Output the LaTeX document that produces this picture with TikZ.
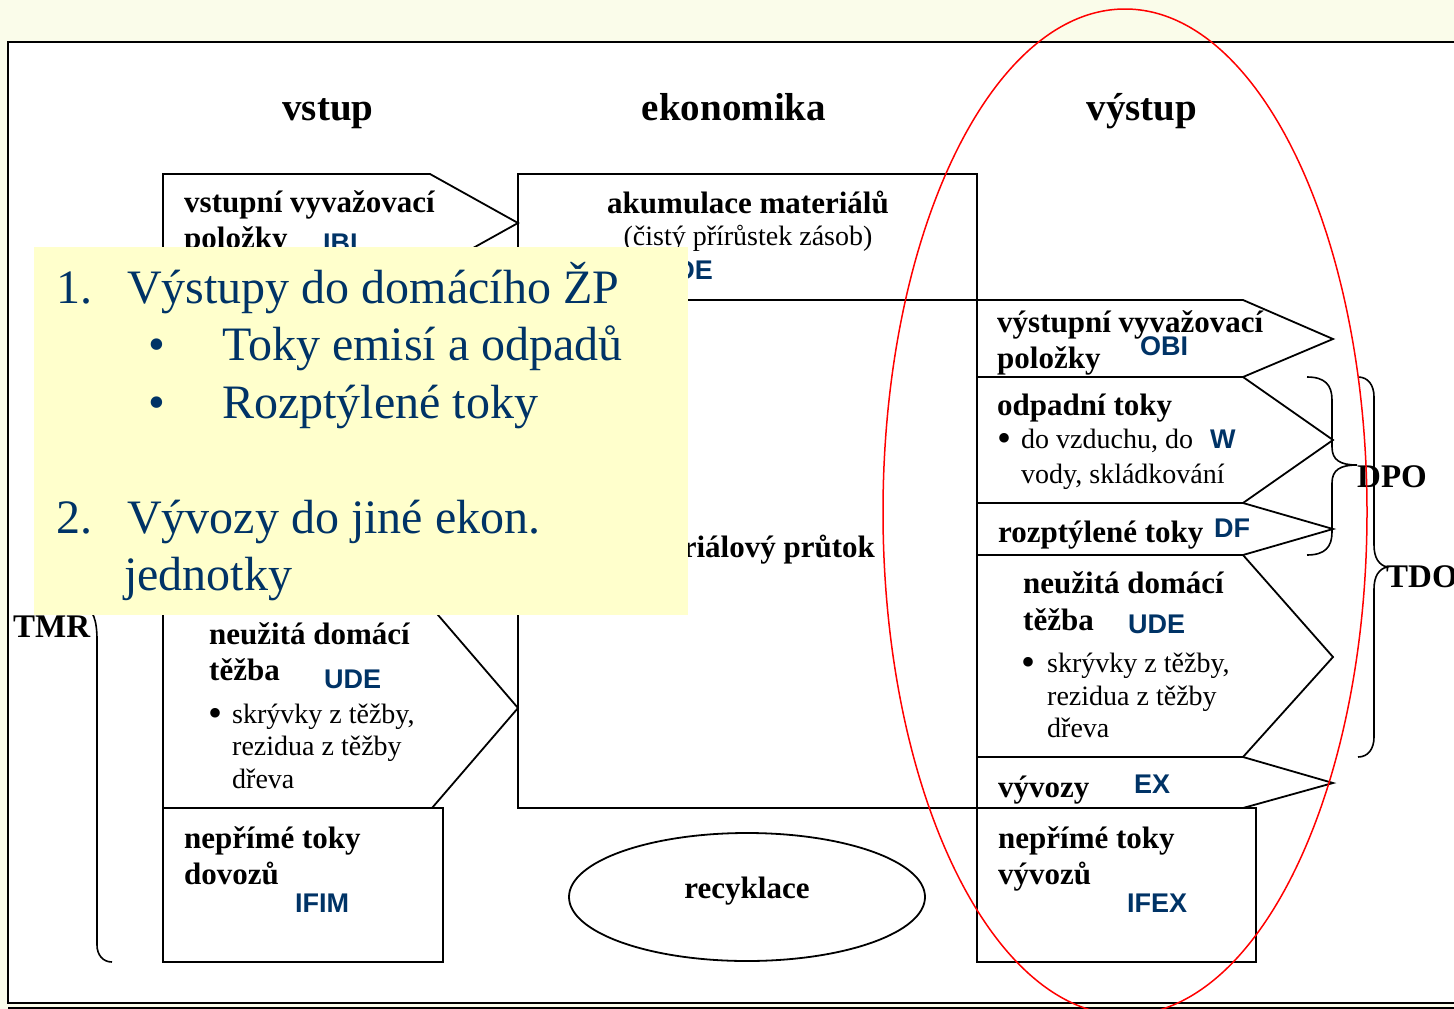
\documentclass[tikz,border=0pt]{standalone}
\usepackage{fontspec}
\setmainfont{Liberation Serif}
\setsansfont{Liberation Sans}
\definecolor{cream}{RGB}{250,252,234}
\definecolor{codeblue}{RGB}{0,51,102}
\definecolor{noteyellow}{RGB}{255,255,204}
\begin{document}
\begin{tikzpicture}[x=1pt,y=-1pt,
  box/.style={draw=black, line width=1.8pt, line join=miter},
  bt/.style={font=\fontsize{31}{36}\selectfont\bfseries, inner sep=0pt, anchor=base west},
  rt/.style={font=\fontsize{28}{34}\selectfont, inner sep=0pt, anchor=base west},
  dot/.style={font=\fontsize{40}{40}\selectfont, inner sep=0pt, anchor=base},
  code/.style={font=\sffamily\bfseries\fontsize{27}{32}\selectfont, text=codeblue, inner sep=0pt, anchor=base west},
  head/.style={font=\fontsize{39}{46}\selectfont\bfseries, inner sep=0pt, anchor=base},
  big/.style={font=\fontsize{33}{40}\selectfont\bfseries, inner sep=0pt, anchor=base west},
  note/.style={font=\fontsize{48}{56}\selectfont, text=codeblue, inner sep=0pt, anchor=base west},
  brace/.style={draw=black, line width=1.6pt},
]
\clip (0,0) rectangle (1454,1009);
\fill[cream] (0,0) rectangle (1454,1009);

% slide frame
\draw[line width=2pt, fill=white] (8,42) rectangle (1470,1003);
\draw[line width=3pt] (8,1008) -- (1460,1008);

% input column
\draw[box] (163,174) -- (430,174) -- (518,223) -- (430,272) -- (163,272) -- cycle;
\draw[box] (163,272) -- (163,608);
\draw[box] (163,608) -- (432,608) -- (518,708) -- (432,808) -- (163,808) -- cycle;
\draw[box] (163,808) rectangle (443,962);

% economy
\draw[box] (518,174) rectangle (977,808);
\draw[box] (518,300) -- (977,300);

% output column
\foreach \t/\m/\b in {300/339/377, 377/440/503, 503/529/555, 555/657/757, 757/783/808}{
  \draw[box] (977,\t) -- (1243,\t) -- (1333,\m) -- (1243,\b) -- (977,\b);
}
\draw[box] (977,808) rectangle (1256,962);

% recycling
\draw[line width=1.8pt] (747,897) ellipse [x radius=178pt, y radius=64pt];
\node[bt, anchor=base] (rec) at (747,898) {recyklace};

% headings
\node[head] (hin) at (328,120) {vstup};
\node[head] (hecon) at (734,120) {ekonomika};
\node[head] (hout) at (1142,120) {výstup};

% input texts
\node[bt] (ibi1) at (184,212) {vstupní vyvažovací};
\node[bt] (ibi2) at (184,248) {položky};
\node[code] (ibi) at (323,252) {IBI};

\node[bt] (udeA) at (209,644) {neužitá domácí};
\node[bt] (udeB) at (209,680) {těžba};
\node[code] (ude) at (324,688) {UDE};
\node[dot] (udeDot) at (215,726) {•};
\node[rt] (udeC) at (232,723) {skrývky z těžby,};
\node[rt] (udeD) at (232,755) {rezidua z těžby};
\node[rt] (udeE) at (232,788) {dřeva};

\node[bt] (ifimA) at (184,848) {nepřímé toky};
\node[bt] (ifimB) at (184,884) {dovozů};
\node[code] (ifim) at (295,912) {IFIM};

% economy texts
\node[bt, anchor=base] (accA) at (748,213) {akumulace materiálů};
\node[rt, anchor=base] (accB) at (748,245) {(čistý přírůstek zásob)};
\node[code, anchor=base east] (acc) at (713,279) {DE};
\node[bt, anchor=base east] (dmt) at (875,557) {materiálový průtok};

% output texts
\node[bt] (obiA) at (997,332) {výstupní vyvažovací};
\node[bt] (obiB) at (997,368) {položky};
\node[code] (obi) at (1140,355) {OBI};

\node[bt] (wA) at (997,415) {odpadní toky};
\node[dot] (wDot) at (1004,451) {•};
\node[rt] (wB) at (1021,448) {do vzduchu, do};
\node[code] (w) at (1210,448) {W};
\node[rt] (wC) at (1021,483) {vody, skládkování};

\node[bt] (dfA) at (998,542) {rozptýlené toky};
\node[code] (df) at (1214,537) {DF};

\node[bt] (udeRA) at (1023,593) {neužitá domácí};
\node[bt] (udeRB) at (1023,630) {těžba};
\node[code] (udeR) at (1128,633) {UDE};
\node[dot] (udeRDot) at (1028,675) {•};
\node[rt] (udeRC) at (1047,672) {skrývky z těžby,};
\node[rt] (udeRD) at (1047,705) {rezidua z těžby};
\node[rt] (udeRE) at (1047,737) {dřeva};

\node[bt] (exA) at (998,797) {vývozy};
\node[code] (ex) at (1134,793) {EX};

\node[bt] (ifexA) at (998,848) {nepřímé toky};
\node[bt] (ifexB) at (998,884) {vývozů};
\node[code] (ifex) at (1127,912) {IFEX};

% aggregate labels and braces
\node[big] (tmr) at (13,637) {TMR};
\node[big] (dpo) at (1357,487) {DPO};
\node[big] (tdo) at (1386,587) {TDO};

\draw[brace] (112,260) .. controls (103,260) and (97,266) .. (97,278) -- (97,575)
  .. controls (97,595) and (93,605) .. (84,607)
  .. controls (93,609) and (97,620) .. (97,640) -- (97,945)
  .. controls (97,955) and (103,962) .. (112,962);

\draw[brace] (1307,377) .. controls (1325,377) and (1332,385) .. (1332,400) -- (1332,447)
  .. controls (1332,460) and (1340,465) .. (1357,465)
  .. controls (1340,465) and (1332,470) .. (1332,483) -- (1332,532)
  .. controls (1332,547) and (1325,555) .. (1307,555);

\draw[brace] (1358,377) .. controls (1368,377) and (1374,385) .. (1374,397) -- (1374,545)
  .. controls (1374,558) and (1379,565) .. (1387,567)
  .. controls (1379,569) and (1374,576) .. (1374,589) -- (1374,737)
  .. controls (1374,749) and (1368,757) .. (1358,757);

% highlighted note
\fill[noteyellow] (34,247) rectangle (688,615);
\node[note] (n1) at (56,303) {1.};
\node[note] (n1t) at (127,303) {Výstupy do domácího ŽP};
\node[note, anchor=base] (n1d1) at (157,360) {•};
\node[note] (n1a) at (222,360) {Toky emisí a odpadů};
\node[note, anchor=base] (n1d2) at (157,418) {•};
\node[note] (n1b) at (222,418) {Rozptýlené toky};
\node[note] (n2) at (56,533) {2.};
\node[note] (n2t) at (127,533) {Vývozy do jiné ekon.};
\node[note] (n2u) at (124,590) {jednotky};

% output ring
\draw[red, line width=1.5pt] (1125,512) ellipse [x radius=242pt, y radius=503pt];
\end{tikzpicture}
\end{document}
